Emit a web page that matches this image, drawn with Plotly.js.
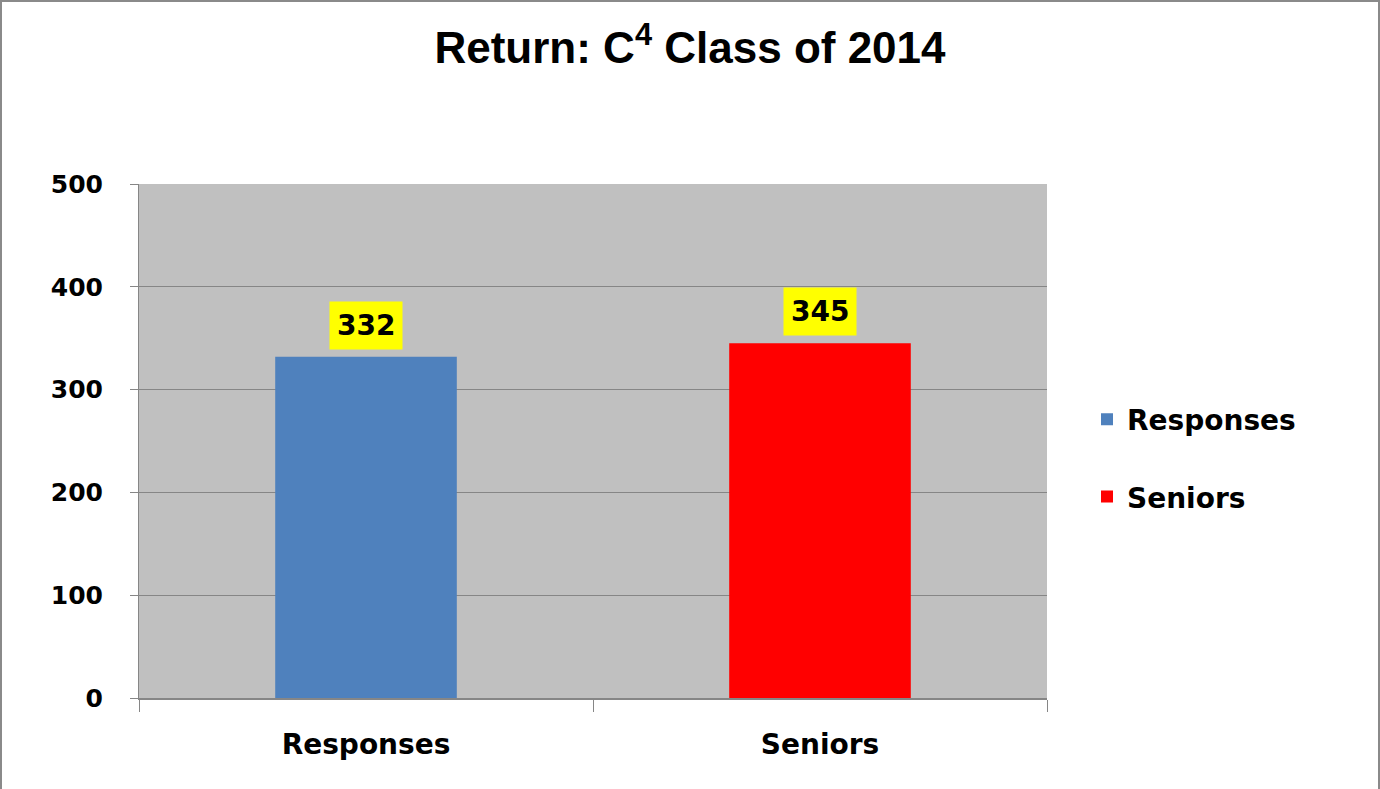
<!DOCTYPE html>
<html>
<head>
<meta charset="utf-8">
<script src="https://cdn.plot.ly/plotly-3.0.1.min.js"></script>
<style>
  html, body { margin: 0; padding: 0; background: #fff; }
  #wrap { position: relative; width: 1380px; height: 789px; }
  #chart { width: 1380px; height: 789px; }
  #frame { position: absolute; left: 0; top: 0; width: 1380px; height: 789px; box-sizing: border-box;
           border-left: 2px solid #8a8a8a; border-top: 2px solid #8a8a8a; border-right: 2px solid #8a8a8a;
           pointer-events: none; }
</style>
</head>
<body>
<div id="wrap"><div id="chart"></div><div id="frame"></div></div>
<script>
const categories = ['Responses', 'Seniors'];
const values = [332, 345];
const seriesNames = ['Responses', 'Seniors'];
const colors = ['#4F81BD', '#FF0000'];
const yTicks = [0, 100, 200, 300, 400, 500];

const traces = categories.map((c, i) => ({
  type: 'bar',
  x: [c],
  y: [values[i]],
  name: seriesNames[i],
  legendgroup: 'g' + i,
  width: 0.4,
  marker: { color: colors[i] },
  hoverinfo: 'x+y'
}));

const annotations = categories.map((c, i) => ({
  x: c, y: values[i], xref: 'x', yref: 'y',
  text: String(values[i]),
  showarrow: false,
  yanchor: 'bottom',
  yshift: 7,
  bgcolor: '#FFFF00',
  borderpad: 7,
  font: { family: 'DejaVu Sans', size: 28, color: '#000', weight: 'bold' }
}));

const layout = {
  width: 1380, height: 789,
  margin: { l: 139, r: 333, t: 184, b: 91 },
  paper_bgcolor: '#ffffff',
  plot_bgcolor: '#C0C0C0',
  barmode: 'overlay',
  title: {
    text: 'Return: C<sup>4</sup> Class of 2014',
    x: 0.5, xanchor: 'center', xref: 'container',
    y: 1 - 48 / 789, yanchor: 'middle', yref: 'container',
    font: { family: 'Liberation Sans', size: 44, color: '#000', weight: 'bold' }
  },
  xaxis: {
    type: 'category',
    showline: true, linecolor: '#868686', linewidth: 2,
    ticks: 'outside', tickson: 'boundaries', ticklen: 12, tickcolor: '#868686', tickwidth: 1,
    showgrid: false,
    ticklabelstandoff: 20,
    tickfont: { family: 'DejaVu Sans', size: 28, color: '#000', weight: 'bold' }
  },
  yaxis: {
    range: [0, 500], tickvals: yTicks, ticktext: yTicks.map(String),
    showline: true, linecolor: '#868686', linewidth: 1,
    ticks: 'outside', ticklen: 8, tickcolor: '#868686',
    showgrid: true, gridcolor: '#868686', gridwidth: 1,
    zeroline: false,
    ticklabelstandoff: 22,
    tickfont: { family: 'DejaVu Sans', size: 25, color: '#000', weight: 'bold' }
  },
  showlegend: true,
  legend: {
    x: (1087 - 139) / 908, xanchor: 'left',
    y: (698 - 458) / 514, yanchor: 'middle',
    tracegroupgap: 38,
    bgcolor: 'rgba(0,0,0,0)',
    font: { family: 'DejaVu Sans', size: 28, color: '#000', weight: 'bold' }
  },
  annotations: annotations
};

Plotly.newPlot('chart', traces, layout, { displayModeBar: false, staticPlot: true });
</script>
</body>
</html>
